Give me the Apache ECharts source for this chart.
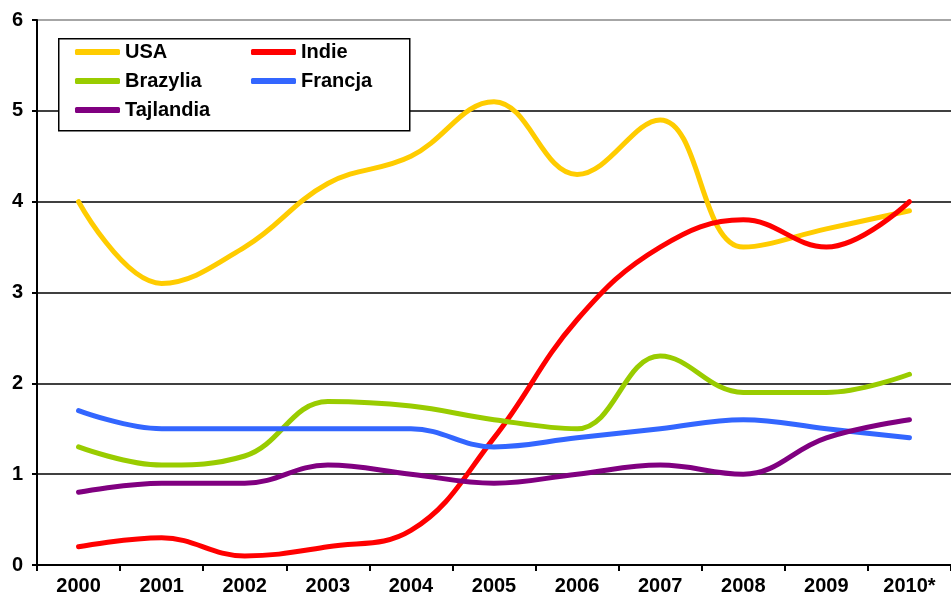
<!DOCTYPE html>
<html>
<head>
<meta charset="utf-8">
<script src="https://cdn.jsdelivr.net/npm/echarts@6/dist/echarts.min.js"></script>
<style>
  html, body { margin: 0; padding: 0; background: #fff; }
  #chart { width: 951px; height: 598px; }
</style>
</head>
<body>
<div id="chart"></div>
<script>
// lata
var years = ["2000", "2001", "2002", "2003", "2004", "2005", "2006", "2007", "2008", "2009", "2010*"];
// wartości
var usa = [4.0, 3.1, 3.5, 4.2, 4.5, 5.1, 4.3, 4.9, 3.5, 3.7, 3.9];
var indie = [0.2, 0.3, 0.1, 0.2, 0.38, 1.4, 2.7, 3.5, 3.8, 3.5, 4.0];
var brazylia = [1.3, 1.1, 1.2, 1.8, 1.75, 1.6, 1.5, 2.3, 1.9, 1.9, 2.1];
var francja = [1.7, 1.5, 1.5, 1.5, 1.5, 1.3, 1.4, 1.5, 1.6, 1.5, 1.4];
var tajlandia = [0.8, 0.9, 0.9, 1.1, 1.0, 0.9, 1.0, 1.1, 1.0, 1.4, 1.6];

var font = "'Liberation Sans', Arial, sans-serif";
var myChart = echarts.init(document.getElementById("chart"));

function line(name, data, color) {
  return {
    name: name,
    type: "line",
    data: data,
    smooth: 0.4,
    symbol: "none",
    lineStyle: { width: 5, color: color, cap: "round", join: "round" },
    itemStyle: { color: color }
  };
}

var legendText = { fontFamily: font, fontWeight: "bold", fontSize: 20, color: "#000", lineHeight: 20 };

var option = {
  animation: false,
  backgroundColor: "#fff",
  grid: { left: 37, width: 922, top: 20, bottom: 33 },
  graphic: [
    {
      type: "rect",
      left: 58, top: 38,
      shape: { width: 351, height: 92 },
      style: { fill: "#fff", stroke: "#000", lineWidth: 1.5 },
      z: 90
    }
  ],
  legend: [
    {
      data: ["USA", "Brazylia", "Tajlandia"],
      orient: "vertical",
      left: 75, top: 42,
      padding: 0,
      itemGap: 9,
      itemWidth: 45, itemHeight: 6,
      icon: "roundRect",
      textStyle: legendText,
      z: 100
    },
    {
      data: ["Indie", "Francja"],
      orient: "vertical",
      left: 251, top: 42,
      padding: 0,
      itemGap: 9,
      itemWidth: 45, itemHeight: 6,
      icon: "roundRect",
      textStyle: legendText,
      z: 100
    }
  ],
  xAxis: {
    type: "category",
    data: years,
    boundaryGap: true,
    axisLine: { lineStyle: { color: "#000", width: 2 } },
    axisTick: { show: true, length: 6, lineStyle: { color: "#000", width: 2 } },
    axisLabel: { fontFamily: font, fontWeight: "bold", fontSize: 20, color: "#000", margin: 11 },
    splitLine: { show: false }
  },
  yAxis: {
    type: "value",
    min: 0, max: 6, interval: 1,
    axisLine: { show: true, lineStyle: { color: "#000", width: 2 } },
    axisTick: { show: true, length: 5, lineStyle: { color: "#000", width: 2 } },
    axisLabel: { fontFamily: font, fontWeight: "bold", fontSize: 20, color: "#000", margin: 14 },
    splitLine: {
      show: true,
      lineStyle: { color: ["#000", "#000", "#000", "#000", "#000", "#000", "#888"], width: 1.5 }
    }
  },
  series: [
    line("USA", usa, "#FFCC00"),
    line("Indie", indie, "#FF0000"),
    line("Brazylia", brazylia, "#99CC00"),
    line("Francja", francja, "#3366FF"),
    line("Tajlandia", tajlandia, "#800080")
  ]
};
myChart.setOption(option);
</script>
</body>
</html>
